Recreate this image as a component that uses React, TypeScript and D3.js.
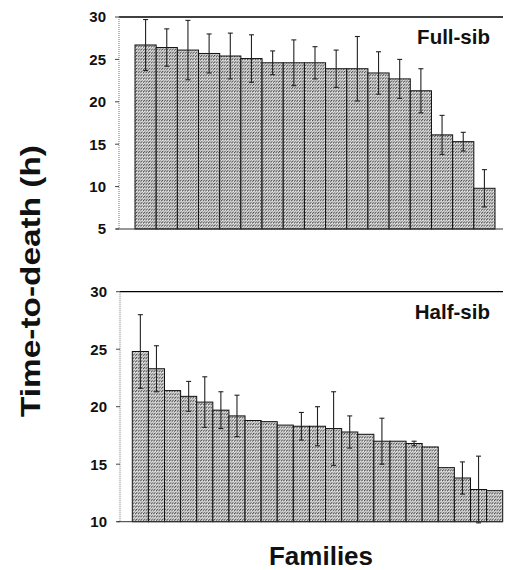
import React from 'react';
import * as d3 from 'd3';

// Full-sib families: mean time-to-death (h) and error
const fullSibMeans = [26.7, 26.4, 26.1, 25.7, 25.4, 25.1, 24.6, 24.6, 24.6, 23.9, 23.9, 23.4, 22.7, 21.3, 16.1, 15.3, 9.8];
const fullSibErr = [3.0, 2.2, 3.5, 2.3, 2.7, 2.8, 1.4, 2.7, 1.9, 2.2, 3.8, 2.5, 2.3, 2.6, 2.3, 1.1, 2.2];

// Half-sib families
const halfSibMeans = [24.8, 23.3, 21.4, 20.9, 20.4, 19.7, 19.2, 18.8, 18.7, 18.4, 18.3, 18.3, 18.1, 17.8, 17.6, 17.0, 17.0, 16.8, 16.5, 14.7, 13.8, 12.8, 12.7];
const halfSibErr = [3.2, 2.0, 0, 1.3, 2.2, 1.6, 1.8, 0, 0, 0, 1.2, 1.7, 3.2, 1.4, 0, 2.0, 0, 0.2, 0, 0, 1.4, 2.9, 0];

const fullSibTicks = [5, 10, 15, 20, 25, 30];
const halfSibTicks = [10, 15, 20, 25, 30];

const font = 'Arial, "Liberation Sans", Helvetica, sans-serif';

type PanelProps = {
  id: string;
  label: string;
  means: number[];
  errs: number[];
  ticks: number[];
  domain: [number, number];
  top: number;
  bottom: number;
  axisX: number;
  barLeft: number;
  barRight: number;
};

function Panel({ id, label, means, errs, ticks, domain, top, bottom, axisX, barLeft, barRight }: PanelProps) {
  const x = d3.scaleBand<number>()
    .domain(means.map((_, i) => i))
    .range([barLeft, barRight])
    .padding(0);
  const y = d3.scaleLinear().domain(domain).range([bottom, top]);
  const right = 503;
  const cap = 2.5;

  return (
    <g>
      {/* bars */}
      {means.map((m, i) => (
        <rect
          key={'b' + i}
          x={x(i)}
          y={y(m)}
          width={x.bandwidth()}
          height={y(domain[0]) - y(m)}
          fill={`url(#hatch-${id})`}
          stroke="#111"
          strokeWidth={1}
        />
      ))}
      {/* error bars */}
      {means.map((m, i) => {
        const e = errs[i];
        if (!e) return null;
        const cx = (x(i) as number) + x.bandwidth() / 2;
        return (
          <g key={'e' + i} stroke="#222" strokeWidth={1.1}>
            <line x1={cx} x2={cx} y1={y(m + e)} y2={y(m - e)} />
            <line x1={cx - cap} x2={cx + cap} y1={y(m + e)} y2={y(m + e)} />
            <line x1={cx - cap} x2={cx + cap} y1={y(m - e)} y2={y(m - e)} />
          </g>
        );
      })}
      {/* frame */}
      <line x1={axisX} x2={right} y1={y(domain[1])} y2={y(domain[1])} stroke="#000" strokeWidth={1.3} />
      <line x1={axisX - 3} x2={right} y1={y(domain[0])} y2={y(domain[0])} stroke="#333" strokeWidth={1} />
      <line x1={axisX} x2={axisX} y1={y(domain[1])} y2={y(domain[0])} stroke="#777" strokeWidth={1} strokeDasharray="1,1" />
      {/* y ticks */}
      {ticks.map(t => (
        <g key={'t' + t}>
          <line x1={axisX - 4} x2={axisX} y1={y(t)} y2={y(t)} stroke="#444" strokeWidth={1} />
          <text
            x={axisX - 13}
            y={y(t)}
            dy="0.36em"
            textAnchor="end"
            fontFamily={font}
            fontWeight="bold"
            fontSize={15}
            fill="#111"
          >
            {t}
          </text>
        </g>
      ))}
      <text x={490} y={top + 27} textAnchor="end" fontFamily={font} fontWeight="bold" fontSize={20.5} fill="#111">
        {label}
      </text>
    </g>
  );
}

export default function App() {
  return (
    <svg
      width={505}
      height={570}
      style={{ position: 'absolute', left: 0, top: 0, background: '#fff' }}
    >
      <defs>
        {['full', 'half'].map(id => (
          <pattern key={id} id={`hatch-${id}`} width={2.6} height={id === 'full' ? 3.2 : 3.3} patternUnits="userSpaceOnUse">
            <rect width={2.6} height={3.3} fill="#e9e9e9" />
            <path d="M0,2.7 L2.2,0.4" stroke="#222" strokeWidth={0.85} />
          </pattern>
        ))}
      </defs>
      <Panel
        id="full"
        label="Full-sib"
        means={fullSibMeans}
        errs={fullSibErr}
        ticks={fullSibTicks}
        domain={[5, 30]}
        top={17}
        bottom={229}
        axisX={119}
        barLeft={135}
        barRight={495}
      />
      <Panel
        id="half"
        label="Half-sib"
        means={halfSibMeans}
        errs={halfSibErr}
        ticks={halfSibTicks}
        domain={[10, 30]}
        top={291.7}
        bottom={521.7}
        axisX={120}
        barLeft={132.3}
        barRight={502.7}
      />
      <text
        transform="translate(40,281) rotate(-90)"
        textAnchor="middle"
        fontFamily={font}
        fontWeight="bold"
        fontSize={28}
        textLength={272}
        lengthAdjust="spacingAndGlyphs"
        fill="#111"
      >
        Time-to-death (h)
      </text>
      <text x={321} y={565} textAnchor="middle" fontFamily={font} fontWeight="bold" fontSize={26} fill="#111">
        Families
      </text>
    </svg>
  );
}
